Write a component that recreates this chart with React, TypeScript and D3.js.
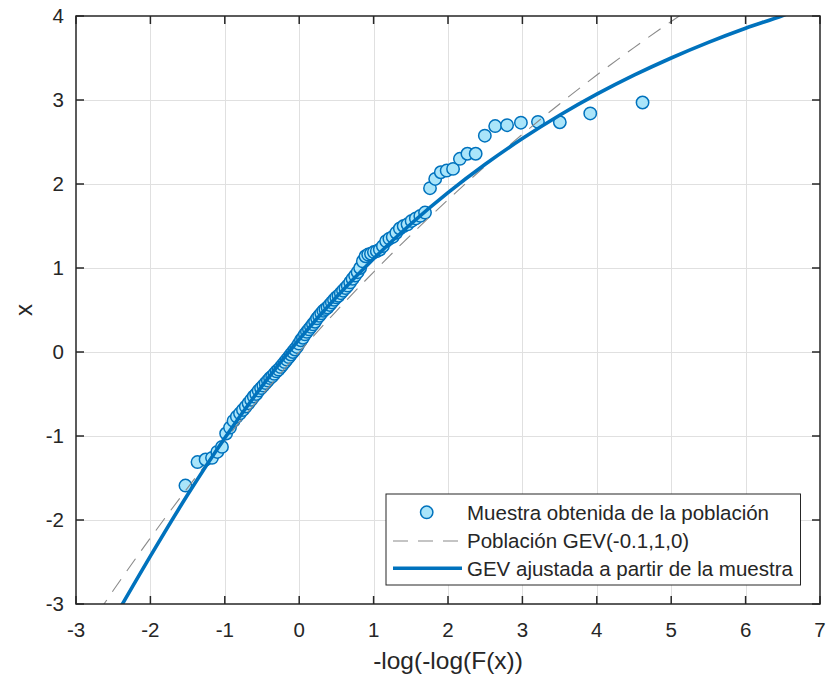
import React from "react";
import * as d3 from "d3";

// Sample: Gumbel-reduced variate (x-axis) and sorted sample value (y-axis)
const sampleU = [-1.529,-1.367,-1.258,-1.172,-1.101,-1.038,-0.982,-0.930,-0.883,-0.838,-0.796,-0.756,-0.718,-0.681,-0.646,-0.611,-0.578,-0.545,-0.513,-0.482,-0.452,-0.421,-0.392,-0.363,-0.334,-0.305,-0.277,-0.249,-0.221,-0.194,-0.167,-0.139,-0.112,-0.085,-0.058,-0.031,-0.004,0.023,0.050,0.077,0.104,0.131,0.158,0.185,0.213,0.240,0.268,0.296,0.324,0.352,0.381,0.410,0.439,0.468,0.498,0.528,0.559,0.589,0.621,0.652,0.685,0.717,0.751,0.785,0.819,0.855,0.891,0.927,0.965,1.004,1.043,1.084,1.125,1.168,1.212,1.257,1.305,1.353,1.404,1.456,1.511,1.568,1.628,1.691,1.758,1.828,1.903,1.982,2.068,2.160,2.261,2.372,2.495,2.634,2.794,2.980,3.209,3.503,3.912,4.615];
const sampleX = [-1.59,-1.31,-1.28,-1.26,-1.19,-1.13,-0.97,-0.90,-0.82,-0.77,-0.73,-0.69,-0.65,-0.61,-0.57,-0.53,-0.50,-0.46,-0.43,-0.40,-0.37,-0.34,-0.31,-0.29,-0.26,-0.23,-0.21,-0.18,-0.15,-0.12,-0.09,-0.06,-0.03,0.00,0.03,0.06,0.10,0.14,0.17,0.21,0.24,0.27,0.30,0.33,0.36,0.40,0.43,0.46,0.49,0.51,0.53,0.56,0.59,0.62,0.65,0.67,0.70,0.73,0.76,0.79,0.83,0.87,0.91,0.95,1.00,1.08,1.14,1.16,1.17,1.19,1.20,1.22,1.26,1.32,1.35,1.37,1.42,1.47,1.50,1.52,1.56,1.59,1.62,1.66,1.95,2.06,2.14,2.16,2.18,2.30,2.36,2.36,2.575,2.69,2.70,2.73,2.74,2.735,2.84,2.97];

// Population GEV(-0.1,1,0) curve
const popU = [-2.7,-2.5,-2.0,-1.5,-1.0,-0.5,0,0.5,1.0,1.5,2.0,2.5,3.0,3.5,4.0,4.5,5.0,5.5];
const popX = [-3.100,-2.840,-2.214,-1.618,-1.052,-0.513,0,0.488,0.952,1.393,1.813,2.212,2.592,2.953,3.297,3.624,3.935,4.230];

// Fitted GEV curve
const fitU = [-2.5,-2.0,-1.5,-1.0,-0.5,0,0.5,1.0,1.5,2.0,2.5,3.0,3.5,4.0,4.5,5.0,5.5,6.0,6.5,6.6];
const fitX = [-3.19,-2.43,-1.70,-1.023,-0.407,0.15,0.654,1.111,1.524,1.897,2.235,2.541,2.818,3.069,3.295,3.500,3.686,3.854,4.006,4.04];

const xTicks = [-3,-2,-1,0,1,2,3,4,5,6,7];
const yTicks = [-3,-2,-1,0,1,2,3,4];

const legendLabels = [
  "Muestra obtenida de la población",
  "Población GEV(-0.1,1,0)",
  "GEV ajustada a partir de la muestra",
];

const BLUE = "#0072BD";
const FILL = "#aae5fa";
const AX = "#262626";
const FONT = "'Liberation Sans', Arial, Helvetica, sans-serif";

export default function App() {
  const W = 835, H = 675;
  const L = 76, R = 820, T = 16, B = 604;
  const x = d3.scaleLinear().domain([-3, 7]).range([L, R]);
  const y = d3.scaleLinear().domain([-3, 4]).range([B, T]);

  const popData = popU.map((u, i) => [u, popX[i]] as [number, number]);
  const fitData = fitU.map((u, i) => [u, fitX[i]] as [number, number]);
  const line = d3
    .line<[number, number]>()
    .x((d) => x(d[0]))
    .y((d) => y(d[1]))
    .curve(d3.curveMonotoneX);

  const tickLen = 8;

  return (
    <svg
      width={W}
      height={H}
      style={{ position: "absolute", left: 0, top: 0, background: "#fff" }}
      fontFamily={FONT}
    >
      <defs>
        <clipPath id="plotclip">
          <rect x={L} y={T} width={R - L} height={B - T} />
        </clipPath>
      </defs>
      <rect x={0} y={0} width={W} height={H} fill="#fff" />
      {/* grid */}
      <g stroke="#e0e0e0" strokeWidth={1}>
        {xTicks.slice(1, -1).map((t) => (
          <line key={"gx" + t} x1={Math.round(x(t)) + 0.5} x2={Math.round(x(t)) + 0.5} y1={T} y2={B} />
        ))}
        {yTicks.slice(1, -1).map((t) => (
          <line key={"gy" + t} x1={L} x2={R} y1={Math.round(y(t)) + 0.5} y2={Math.round(y(t)) + 0.5} />
        ))}
      </g>

      <g clipPath="url(#plotclip)">
        {sampleU.map((u, i) => (
          <circle
            key={"p" + i}
            cx={x(u)}
            cy={y(sampleX[i])}
            r={6.2}
            fill={FILL}
            stroke={BLUE}
            strokeWidth={1.5}
          />
        ))}
        <path
          d={line(popData) || ""}
          fill="none"
          stroke="#8a8a8a"
          strokeWidth={1.1}
          strokeDasharray="15,10"
        />
        <path d={line(fitData) || ""} fill="none" stroke={BLUE} strokeWidth={3.6} />
      </g>

      {/* axes box */}
      <rect x={L} y={T} width={R - L} height={B - T} fill="none" stroke={AX} strokeWidth={1.5} />
      {/* ticks */}
      <g stroke={AX} strokeWidth={1.5}>
        {xTicks.map((t) => (
          <g key={"tx" + t}>
            <line x1={x(t)} x2={x(t)} y1={B} y2={B - tickLen} />
            <line x1={x(t)} x2={x(t)} y1={T} y2={T + tickLen} />
          </g>
        ))}
        {yTicks.map((t) => (
          <g key={"ty" + t}>
            <line x1={L} x2={L + tickLen} y1={y(t)} y2={y(t)} />
            <line x1={R} x2={R - tickLen} y1={y(t)} y2={y(t)} />
          </g>
        ))}
      </g>
      {/* tick labels */}
      <g fill={AX} fontSize={20.5}>
        {xTicks.map((t) => (
          <text key={"lx" + t} x={x(t)} y={637} textAnchor="middle">
            {String(t)}
          </text>
        ))}
        {yTicks.map((t) => (
          <text key={"ly" + t} x={64} y={y(t)} dy="0.36em" textAnchor="end">
            {String(t)}
          </text>
        ))}
      </g>
      {/* axis labels */}
      <text x={(L + R) / 2} y={669} textAnchor="middle" fontSize={24.5} fill={AX}>
        -log(-log(F(x))
      </text>
      <text
        x={0}
        y={0}
        transform={`translate(32,${(T + B) / 2}) rotate(-90)`}
        textAnchor="middle"
        fontSize={24}
        fill={AX}
      >
        x
      </text>

      {/* legend */}
      <g>
        <rect x={386} y={494} width={414.5} height={91} fill="#fff" stroke={AX} strokeWidth={1} />
        <circle cx={426.7} cy={512.3} r={6.2} fill={FILL} stroke={BLUE} strokeWidth={1.5} />
        <line x1={393} x2={462} y1={541} y2={541} stroke="#8a8a8a" strokeWidth={1.1} strokeDasharray="15,10" />
        <line x1={393} x2={462} y1={568.3} y2={568.3} stroke={BLUE} strokeWidth={3.6} />
        {legendLabels.map((s, i) => (
          <text key={"lg" + i} x={467} y={512.3 + i * 28} dy="0.36em" fontSize={20.5} fill={AX}>
            {s}
          </text>
        ))}
      </g>
    </svg>
  );
}
